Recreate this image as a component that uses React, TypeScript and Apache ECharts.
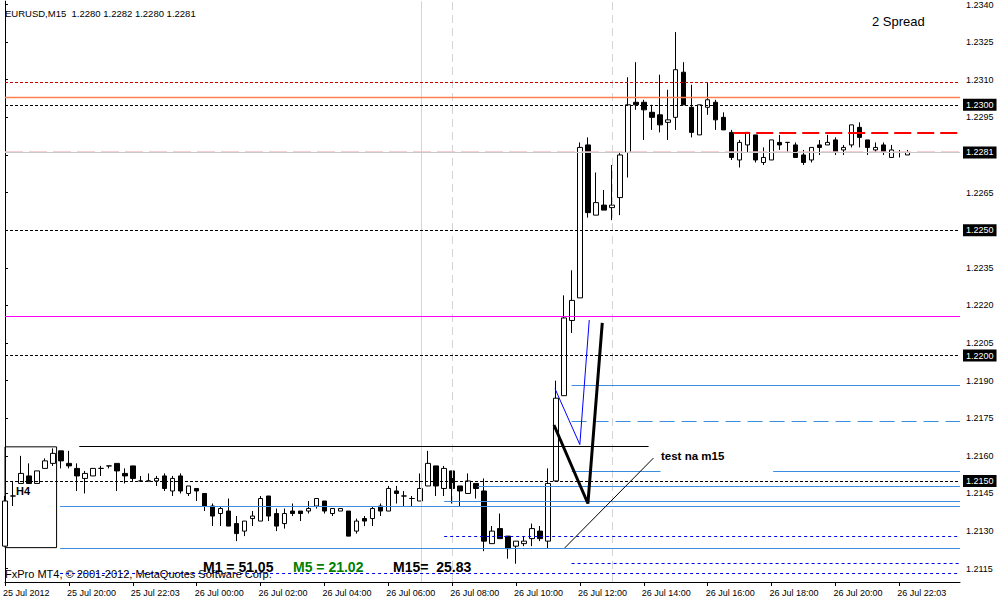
import React, { useEffect, useRef } from "react";
import * as echarts from "echarts";

// ---- candle data (M15 bars, index 0 = 25 Jul 2012 18:00) ----
const opens = [1.2124,1.2144,1.2149,1.2152,1.2149,1.2155,1.2157,1.2162,1.2157,1.2155,
1.2151,1.2152,1.2155,1.2156,1.2157,1.2153,1.2156,1.2150,1.2150,1.2150,
1.2152,1.2146,1.2152,1.2145,1.2147,1.2145,1.2140,1.2137,1.2138,1.2133,
1.2130,1.2135,1.2134,1.2144,1.2137,1.2133,1.2138,1.2138,1.2138,1.2140,
1.2142,1.2137,1.2138,1.2138,1.2130,1.2135,1.2135,1.2140,1.2138,1.2146,
1.2144,1.2143,1.2142,1.2148,1.2156,1.2147,1.2154,1.2148,1.2145,1.2149,
1.2146,1.2125,1.2131,1.2128,1.2124,1.2125,1.2127,1.2130,1.2126,1.2150,
1.2184,1.2214,1.2223,1.2284,1.2256,1.2260,1.2259,1.2263,1.2281,1.2301,
1.2301,1.2297,1.2296,1.2293,1.2295,1.2313,1.2299,1.2288,1.2299,1.2301,
1.2295,1.2289,1.2278,1.2284,1.2288,1.2277,1.2278,1.2285,1.2285,1.2284,
1.2280,1.2278,1.2284,1.2284,1.2286,1.2282,1.2284,1.2291,1.2286,1.2282,
1.2284,1.2279,1.2281,1.2280];
const closes = [1.2142,1.2144,1.2153,1.2149,1.2154,1.2158,1.2161,1.2158,1.2156,1.2152,
1.2153,1.2155,1.2155,1.2156,1.2154,1.2152,1.2151,1.2150,1.2150,1.2151,
1.2147,1.2151,1.2146,1.2148,1.2146,1.2140,1.2136,1.2139,1.2132,1.2129,
1.2134,1.2136,1.2143,1.2136,1.2132,1.2137,1.2137,1.2137,1.2139,1.2143,
1.2138,1.2139,1.2139,1.2128,1.2134,1.2134,1.2139,1.2138,1.2147,1.2145,
1.2144,1.2143,1.2147,1.2157,1.2148,1.2155,1.2147,1.2146,1.2150,1.2147,
1.2126,1.2130,1.2127,1.2123,1.2126,1.2126,1.2131,1.2127,1.2149,1.2183,
1.2215,1.2222,1.2283,1.2257,1.2261,1.2258,1.2260,1.2280,1.2300,1.2300,
1.2298,1.2295,1.2292,1.2294,1.2314,1.2300,1.2289,1.2300,1.2302,1.2294,
1.2290,1.2279,1.2285,1.2289,1.2278,1.2279,1.2286,1.2284,1.2285,1.2279,
1.2277,1.2283,1.2283,1.2285,1.2281,1.2283,1.2292,1.2287,1.2283,1.2283,
1.2281,1.2282,1.2281,1.2281];
const lows = [1.2124,1.2140,1.2149,1.2149,1.2149,1.2155,1.2156,1.2155,1.2155,1.2146,
1.2145,1.2152,1.2152,1.2155,1.2146,1.2149,1.2150,1.2150,1.2150,1.2148,
1.2146,1.2144,1.2145,1.2144,1.2142,1.2138,1.2132,1.2132,1.2132,1.2126,
1.2128,1.2132,1.2134,1.2134,1.2130,1.2131,1.2136,1.2134,1.2137,1.2139,
1.2137,1.2136,1.2138,1.2128,1.2129,1.2132,1.2132,1.2136,1.2138,1.2141,
1.2140,1.2140,1.2142,1.2148,1.2144,1.2144,1.2141,1.2140,1.2145,1.2143,
1.2122,1.2125,1.2127,1.2119,1.2117,1.2124,1.2124,1.2126,1.2123,1.2150,
1.2184,1.2209,1.2223,1.2255,1.2256,1.2258,1.2254,1.2256,1.2271,1.2298,
1.2286,1.2290,1.2289,1.2286,1.2290,1.2300,1.2287,1.2288,1.2296,1.2290,
1.2290,1.2278,1.2275,1.2281,1.2277,1.2276,1.2278,1.2282,1.2281,1.2279,
1.2276,1.2277,1.2280,1.2284,1.2280,1.2280,1.2283,1.2283,1.2280,1.2281,
1.2280,1.2279,1.2279,1.2280];
const highs = [1.2144,1.2150,1.2160,1.2157,1.2154,1.2159,1.2163,1.2162,1.2162,1.2157,
1.2154,1.2155,1.2156,1.2156,1.2157,1.2155,1.2156,1.2152,1.2153,1.2152,
1.2153,1.2152,1.2153,1.2148,1.2147,1.2145,1.2141,1.2140,1.2143,1.2136,
1.2134,1.2138,1.2144,1.2144,1.2139,1.2139,1.2141,1.2138,1.2142,1.2143,
1.2142,1.2139,1.2139,1.2138,1.2135,1.2136,1.2140,1.2141,1.2148,1.2148,
1.2146,1.2144,1.2153,1.2162,1.2156,1.2156,1.2154,1.2148,1.2153,1.2149,
1.2151,1.2132,1.2137,1.2128,1.2126,1.2128,1.2133,1.2132,1.2155,1.2190,
1.2224,1.2234,1.2285,1.2287,1.2273,1.2266,1.2276,1.2281,1.2311,1.2317,
1.2302,1.2300,1.2312,1.2306,1.2329,1.2317,1.2308,1.2300,1.2309,1.2302,
1.2297,1.2290,1.2286,1.2289,1.2288,1.2283,1.2286,1.2288,1.2285,1.2285,
1.2282,1.2283,1.2286,1.2288,1.2287,1.2284,1.2292,1.2293,1.2286,1.2285,
1.2285,1.2284,1.2282,1.2282];

// ---- axis labels ----
const timeLabels = ["25 Jul 2012","25 Jul 20:00","25 Jul 22:03","26 Jul 00:00","26 Jul 02:00","26 Jul 04:00","26 Jul 06:00","26 Jul 08:00","26 Jul 10:00","26 Jul 12:00","26 Jul 14:00","26 Jul 16:00","26 Jul 18:00","26 Jul 20:00","26 Jul 22:03"];
const timeLabelBars = [0,8,16,24,32,40,48,56,64,72,80,88,96,104,112];
const priceTicks = [1.2115,1.2130,1.2145,1.2160,1.2175,1.2190,1.2205,1.2220,1.2235,1.2250,1.2265,1.2280,1.2295,1.2310,1.2325,1.2340];

// ---- chart objects (prices / bar indices) ----
const boxedLevels = [1.2300, 1.2250, 1.2200, 1.2150];
const bidPrice = 1.2281;
const askMarkPrice = 1.22813;
const redDottedLevel = 1.2309;
const orangeLevel = 1.2303;
const magentaLevel = 1.22155;
const redDashSegment = [91.2, 1.2289]; // [start bar, price]
const blueSegments = [[70.96, null, 1.2188],[70.96, 82.1, 1.2154],[96.2, null, 1.2154],[59.2, null, 1.2148],[55.0, null, 1.2142],[6.9, null, 1.2140],[6.9, null, 1.2123]];
const blueDashedSegments = [[70.96, null, 1.2174]];
const blueDottedSegments = [[55.0, null, 1.2128],[70.96, null, 1.2117],[6.9, null, 1.2113]];
const blackSegments = [[9.3, 80.6, 1.2164]];
const h4Box = [[-0.1, 1.21636], [6.46, 1.21234]];
const solidVerticals = [52.1];
const dashedVerticals = [55.96, 76.1];
const bluePolyline = [[68.88, 1.21868], [71.99, 1.21645], [73.17, 1.22142]];
const blackPolyline = [[68.75, 1.21723], [73.0, 1.21410], [74.8, 1.22130]];
const trendLine = [[70.1, 1.21233], [81.2, 1.21591]];

const X_MIN = 0;
const X_MAX = 119.6;
const Y_MIN = 1.21097;
const Y_MAX = 1.23413;
const FONT = '"Liberation Sans", Arial, sans-serif';

export default function App() {
  const ref = useRef<HTMLDivElement>(null);
  useEffect(() => {
    document.body.style.margin = "0";
    const chart = echarts.init(ref.current!, null, { renderer: "svg" });
    const seg = (s: any[], style: any, label?: any) => [
      { coord: [s[0] == null ? X_MIN : s[0], s[2]], lineStyle: style, label: label || { show: false } },
      { coord: [s[1] == null ? X_MAX : s[1], s[2]], lineStyle: style },
    ];
    const boxLabel = (v: number) => ({
      show: true, position: "end", distance: 3,
      formatter: v.toFixed(4),
      backgroundColor: "#000", color: "#fff", padding: [2, 3, 1, 3],
      fontSize: 9, fontFamily: FONT,
    });
    const full = (v: number) => [null, null, v];
    const blue = "#3a8ee0";
    const markLineData: any[] = [
      ...solidVerticals.map((x) => ({ xAxis: x, lineStyle: { color: "#d4d4d4", type: "solid", width: 1 } })),
      ...dashedVerticals.map((x) => ({ xAxis: x, lineStyle: { color: "#d4d4d4", type: [8, 5], width: 1 } })),
      seg(full(redDottedLevel), { color: "#cc0000", type: [3, 2], width: 1 }),
      seg(full(magentaLevel), { color: "#ff00ff", type: "solid", width: 1 }),
      seg(full(orangeLevel), { color: "#ff7f50", type: "solid", width: 1.4 }),
      seg(full(askMarkPrice), { color: "#f4c0c8", type: [18, 6], width: 1.5 }),
      seg(full(bidPrice), { color: "#c8c8c8", type: "solid", width: 1 }, boxLabel(bidPrice)),
      ...boxedLevels.map((v) => seg(full(v), { color: "#000", type: [3, 2], width: 1 }, boxLabel(v))),
      seg([redDashSegment[0], null, redDashSegment[1]], { color: "#ff0000", type: [17, 6], width: 2 }),
      ...blueSegments.map((s) => seg(s, { color: blue, type: "solid", width: 1 })),
      ...blueDashedSegments.map((s) => seg(s, { color: blue, type: [15, 7], width: 1 })),
      ...blueDottedSegments.map((s) => seg(s, { color: "#0000ee", type: [3, 3], width: 1 })),
      ...blackSegments.map((s) => seg(s, { color: "#000", type: "solid", width: 1 })),
    ];
    const lineSeries = (data: number[][], color: string, width: number, z = 5) => ({
      type: "line", data, symbol: "none", showSymbol: false, silent: true, z,
      lineStyle: { color, width }, itemStyle: { color }, clip: true,
    });
    const textEl = (x: number, y: number, text: string, font: string, fill = "#000") => ({
      type: "text", x, y, z: 100, silent: true,
      style: { text, font, fill, verticalAlign: "middle", align: "left" },
    });
    chart.setOption({
      animation: false,
      textStyle: { fontFamily: FONT },
      grid: { left: 3, right: 40, top: 0, bottom: 18 },
      xAxis: {
        type: "value", min: X_MIN, max: X_MAX,
        axisLine: { show: true, onZero: false, lineStyle: { color: "#000", width: 1 } },
        axisTick: { show: true, customValues: timeLabelBars, length: 4, lineStyle: { color: "#000" } },
        axisLabel: {
          customValues: timeLabelBars,
          formatter: (v: number) => timeLabels[timeLabelBars.indexOf(Math.round(v))] ?? "",
          fontSize: 9, color: "#000", align: "left", margin: 6, fontFamily: FONT,
          padding: [0, 0, 0, -2],
        },
        splitLine: { show: false },
      },
      yAxis: [
        {
          type: "value", position: "right", min: Y_MIN, max: Y_MAX,
          axisLine: { show: true, lineStyle: { color: "#000", width: 1 } },
          axisTick: { show: true, customValues: priceTicks, length: 3, lineStyle: { color: "#000" } },
          axisLabel: {
            customValues: priceTicks.filter((t) => Math.abs(t - bidPrice) > 0.0003),
            formatter: (v: number) => v.toFixed(4),
            fontSize: 9, color: "#000", margin: 6, fontFamily: FONT,
          },
          splitLine: { show: false },
        },
        {
          type: "value", position: "left", min: Y_MIN, max: Y_MAX,
          axisLine: { show: true, lineStyle: { color: "#000", width: 1 } },
          axisTick: { show: false }, axisLabel: { show: false }, splitLine: { show: false },
        },
      ],
      series: [
        {
          type: "candlestick",
          data: opens.map((o, i) => [i, o, closes[i], lows[i], highs[i]]),
          encode: { x: 0, y: [1, 2, 3, 4] },
          barWidth: 5,
          z: 3,
          itemStyle: { color: "#fff", color0: "#000", borderColor: "#000", borderColor0: "#000", borderWidth: 1 },
          markLine: {
            silent: true, symbol: "none", animation: false,
            label: { show: false },
            data: markLineData,
          },
          markArea: {
            silent: true,
            itemStyle: { color: "rgba(0,0,0,0)", borderColor: "#000", borderWidth: 1 },
            data: [[{ coord: h4Box[0] }, { coord: h4Box[1] }]],
          },
        },
        lineSeries(bluePolyline, "#0000ff", 1),
        lineSeries(blackPolyline, "#000", 3),
        lineSeries(trendLine, "#000", 1),
      ],
      graphic: [
        textEl(5, 13, "EURUSD,M15  1.2280 1.2282 1.2280 1.2281", `9.5px ${FONT}`),
        textEl(872, 21, "2 Spread", `13px ${FONT}`),
        textEl(5, 574, "FxPro MT4, © 2001-2012, MetaQuotes Software Corp.", `11px ${FONT}`),
        textEl(203, 567, "M1 = 51.05", `bold 14px ${FONT}`),
        textEl(293, 567, "M5 = 21.02", `bold 14px ${FONT}`, "#008000"),
        textEl(393, 567, "M15=  25.83", `bold 14px ${FONT}`),
        textEl(16, 491, "H4", `bold 11px ${FONT}`),
        textEl(661, 456, "test na m15", `bold 11.5px ${FONT}`),
      ],
    });
    return () => chart.dispose();
  }, []);
  return <div ref={ref} style={{ width: 1000, height: 600, background: "#fff" }} />;
}
